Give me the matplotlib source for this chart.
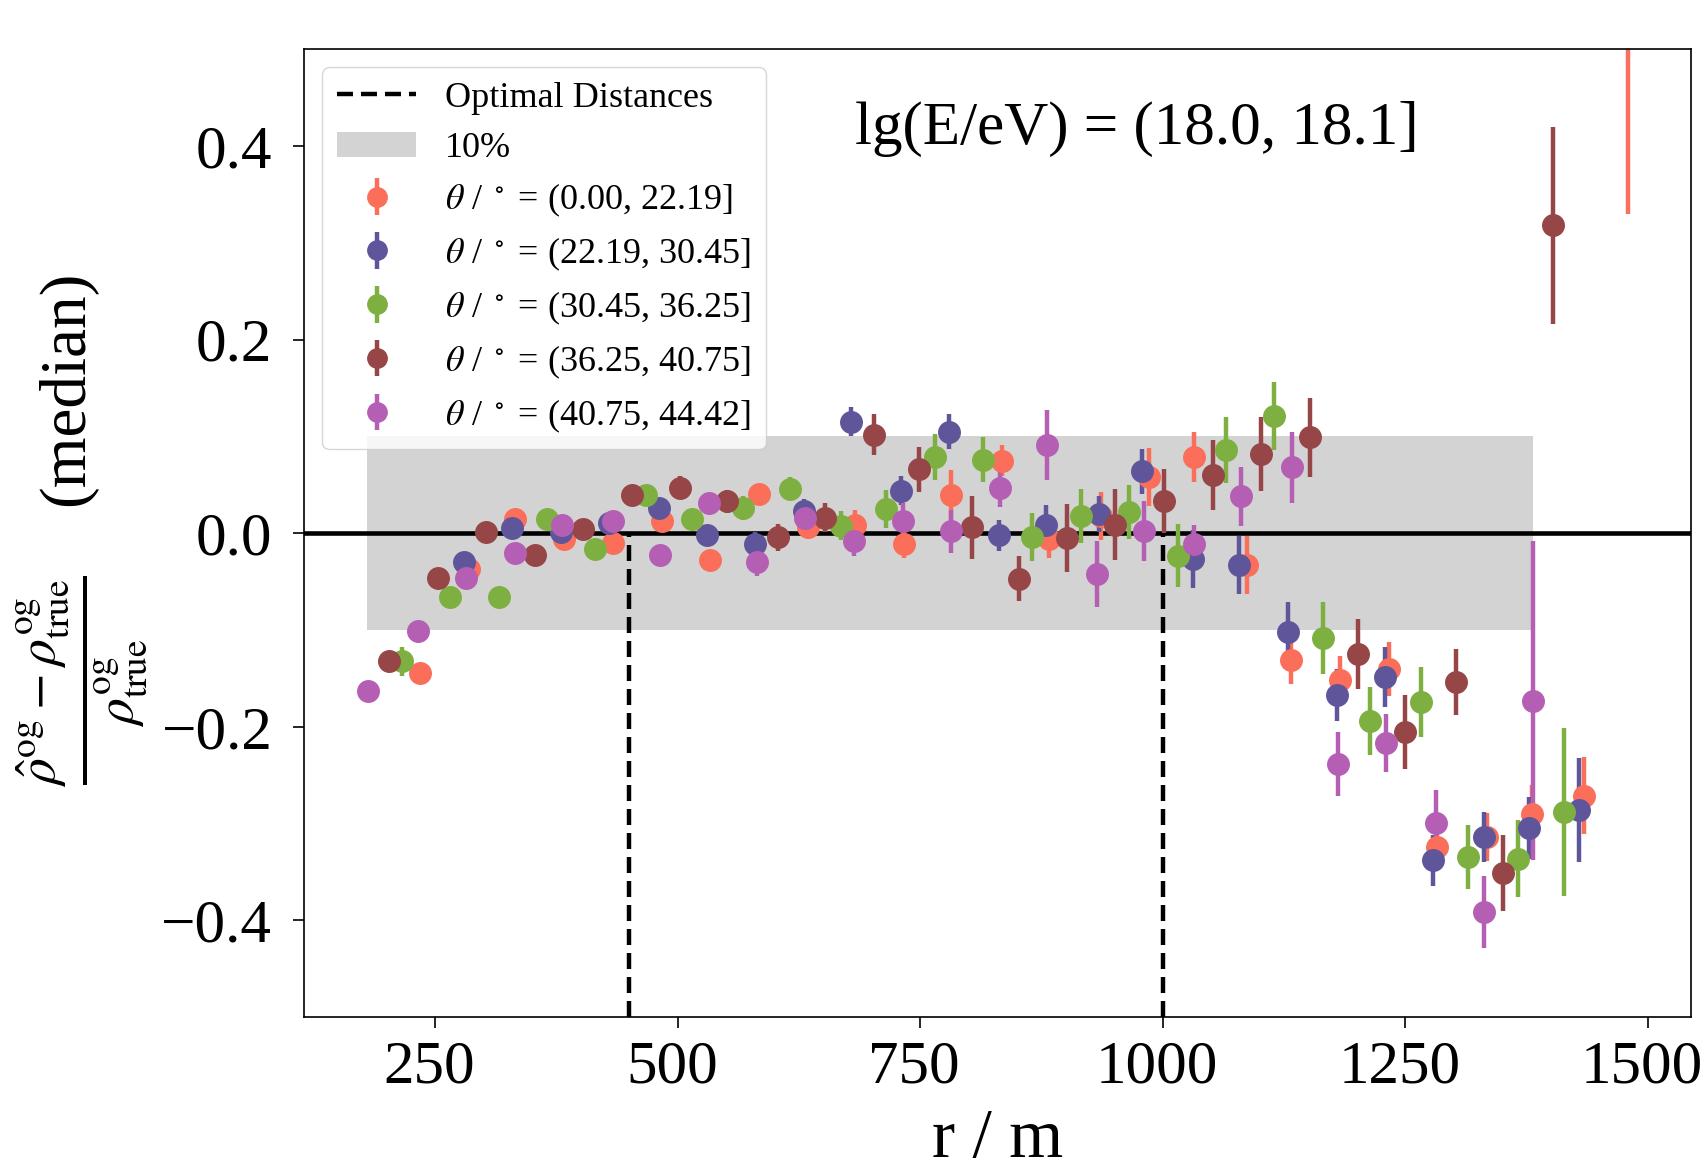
import matplotlib
matplotlib.use("Agg")
import matplotlib.pyplot as plt
from matplotlib.patches import Patch
from matplotlib.lines import Line2D
from matplotlib.transforms import ScaledTranslation
import numpy as np

plt.rcParams['font.family'] = ['Liberation Serif', 'DejaVu Serif']
plt.rcParams['mathtext.fontset'] = 'stix'

# zenith bins
labels = [r'$\theta$ / $^\circ$ = (0.00, 22.19]',
          r'$\theta$ / $^\circ$ = (22.19, 30.45]',
          r'$\theta$ / $^\circ$ = (30.45, 36.25]',
          r'$\theta$ / $^\circ$ = (36.25, 40.75]',
          r'$\theta$ / $^\circ$ = (40.75, 44.42]']
colors = ['#fa6e5a', '#5f559b', '#7db041', '#964646', '#b45fb4']

# (0.00, 22.19]
r_0 = [234, 285, 332, 383, 433, 484, 533, 584, 634, 683, 733, 782, 834, 883,
       936, 986, 1032, 1087, 1132, 1183, 1233, 1283, 1334, 1381, 1434, 1480]
y_0 = [-0.144, -0.037, 0.015, -0.006, -0.010, 0.013, -0.028, 0.041, 0.006, 0.009,
       -0.011, 0.040, 0.075, -0.006, 0.018, 0.058, 0.079, -0.033, -0.131, -0.152,
       -0.140, -0.324, -0.314, -0.290, -0.271, 0.62]
e_0 = [0.008, 0.008, 0.008, 0.008, 0.008, 0.010, 0.010, 0.010, 0.012, 0.015,
       0.015, 0.025, 0.016, 0.020, 0.025, 0.030, 0.026, 0.030, 0.025, 0.025,
       0.028, 0.022, 0.025, 0.030, 0.040, 0.29]

# (22.19, 30.45]
r_1 = [280, 329, 380, 429, 481, 530, 580, 630, 679, 730, 780, 831, 880, 934,
       979, 1031, 1079, 1129, 1180, 1229, 1279, 1331, 1377, 1429]
y_1 = [-0.030, 0.005, 0.001, 0.011, 0.026, -0.002, -0.011, 0.023, 0.115, 0.044,
       0.105, -0.002, 0.009, 0.020, 0.064, -0.027, -0.033, -0.102, -0.167, -0.148,
       -0.338, -0.314, -0.304, -0.286]
e_1 = [0.008, 0.008, 0.008, 0.008, 0.010, 0.010, 0.012, 0.012, 0.015, 0.015,
       0.018, 0.016, 0.020, 0.019, 0.023, 0.030, 0.030, 0.031, 0.027, 0.031,
       0.026, 0.026, 0.032, 0.054]

# (30.45, 36.25]
r_2 = [216, 265, 316, 365, 415, 467, 515, 567, 616, 668, 715, 765, 815, 865,
       916, 965, 1016, 1065, 1115, 1165, 1214, 1266, 1315, 1366, 1414]
y_2 = [-0.132, -0.066, -0.066, 0.015, -0.016, 0.040, 0.015, 0.026, 0.046, 0.008,
       0.025, 0.079, 0.076, -0.004, 0.018, 0.022, -0.023, 0.086, 0.121, -0.108,
       -0.194, -0.174, -0.334, -0.336, -0.288]
e_2 = [0.015, 0.008, 0.008, 0.008, 0.008, 0.010, 0.010, 0.012, 0.012, 0.015,
       0.020, 0.024, 0.023, 0.025, 0.028, 0.028, 0.033, 0.034, 0.035, 0.037,
       0.035, 0.036, 0.033, 0.040, 0.087]

# (36.25, 40.75]
r_3 = [202, 253, 302, 353, 402, 453, 502, 551, 603, 652, 702, 749, 803, 852,
       901, 951, 1001, 1052, 1101, 1152, 1201, 1250, 1302, 1351, 1402]
y_3 = [-0.132, -0.046, 0.001, -0.022, 0.004, 0.040, 0.047, 0.033, -0.004, 0.016,
       0.102, 0.066, 0.006, -0.047, -0.005, 0.009, 0.033, 0.060, 0.082, 0.099,
       -0.125, -0.205, -0.154, -0.351, 0.318]
e_3 = [0.008, 0.008, 0.008, 0.008, 0.008, 0.010, 0.012, 0.012, 0.014, 0.015,
       0.021, 0.023, 0.033, 0.023, 0.035, 0.037, 0.033, 0.036, 0.038, 0.041,
       0.036, 0.038, 0.034, 0.039, 0.102]

# (40.75, 44.42]
r_4 = [181, 232, 282, 332, 381, 433, 482, 532, 582, 631, 682, 732, 782, 832,
       881, 932, 981, 1032, 1081, 1133, 1181, 1230, 1282, 1331, 1382]
y_4 = [-0.163, -0.101, -0.046, -0.020, 0.009, 0.013, -0.022, 0.031, -0.030, 0.016,
       -0.008, 0.013, 0.002, 0.047, 0.091, -0.042, 0.002, -0.011, 0.038, 0.068,
       -0.238, -0.217, -0.299, -0.391, -0.173]
e_4 = [0.008, 0.008, 0.008, 0.008, 0.008, 0.008, 0.010, 0.010, 0.014, 0.012,
       0.015, 0.018, 0.022, 0.020, 0.036, 0.034, 0.031, 0.020, 0.030, 0.037,
       0.033, 0.030, 0.034, 0.037, 0.165]

opt_dist = [450, 1000]
band_x = [180, 1382]
band_y = 0.1

rs = [r_0, r_1, r_2, r_3, r_4]
ys = [y_0, y_1, y_2, y_3, y_4]
es = [e_0, e_1, e_2, e_3, e_4]

dash = (0, (3.6, 1.8))

fig = plt.figure(figsize=(17, 11.72), dpi=100)
ax = fig.add_axes([0.179, 0.132, 0.816, 0.826])

ax.fill_between(band_x, -band_y, band_y, color='lightgray', lw=0, zorder=0)
ax.axhline(0, color='black', lw=3.3, zorder=1)
for d in opt_dist:
    ax.plot([d, d], [-0.5, 0], color='black', ls=dash, lw=3.2, zorder=1)

for r, y, e, c, lab in zip(rs, ys, es, colors, labels):
    ax.errorbar(r, y, yerr=e, fmt='o', color=c, ms=15.5, elinewidth=3.2,
                capsize=0, label=lab, zorder=2)

ax.set_ylim(-0.5, 0.5)
ax.set_yticks([-0.4, -0.2, 0.0, 0.2, 0.4])
ax.set_xticks([250, 500, 750, 1000, 1250, 1500])
ax.tick_params(labelsize=44, length=8, width=1.2)
ax.tick_params(axis='y', pad=15)
ax.tick_params(axis='x', pad=8)
shift = ScaledTranslation(-0.06, 0, fig.dpi_scale_trans)
for lbl in ax.get_xticklabels():
    lbl.set_transform(lbl.get_transform() + shift)
for s in ax.spines.values():
    s.set_linewidth(1.2)

ax.set_xlabel('r / m', fontsize=50, labelpad=10)
# y label in two pieces so the fraction can be drawn larger
ax.text(-0.171, 0.650, '(median)', transform=ax.transAxes, rotation=90,
        ha='center', va='center', fontsize=47)
ax.text(-0.160, 0.347,
        r'$\frac{\hat{\rho}^{\rm og}-\rho^{\rm og}_{\rm true}}{\rho^{\rm og}_{\rm true}}$',
        transform=ax.transAxes, rotation=90, ha='center', va='center', fontsize=55)

ax.text(0.60, 0.918, 'lg(E/eV) = (18.0, 18.1]', transform=ax.transAxes,
        ha='center', va='center', fontsize=44)

h, l = ax.get_legend_handles_labels()
extra_h = [Line2D([], [], color='black', ls=dash, lw=3.2),
           Patch(color='lightgray', lw=0)]
extra_l = ['Optimal Distances', '10%']
ax.legend(extra_h + h, extra_l + l, loc='upper left', fontsize=26,
          markerscale=0.9, handlelength=2.2, labelspacing=0.46)

fig.savefig('out.png', dpi=100)
